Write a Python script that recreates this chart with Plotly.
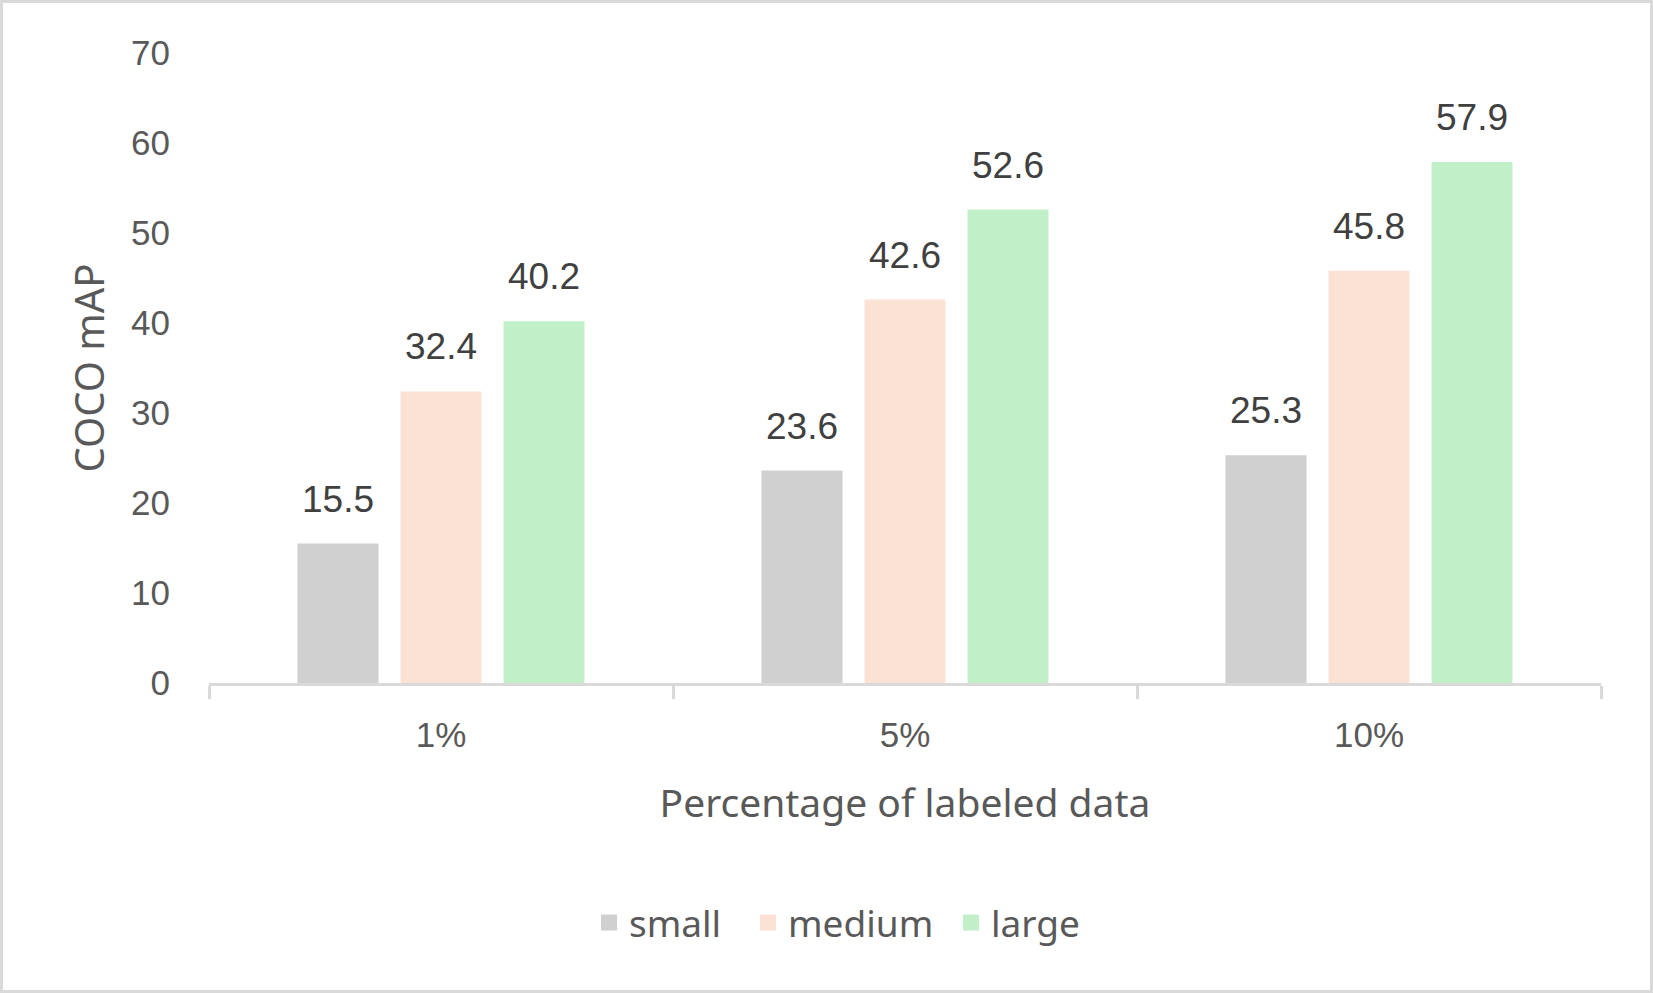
import plotly.graph_objects as go

categories = ["1%", "5%", "10%"]
series_names = ["small", "medium", "large"]
small_vals = [15.5, 23.6, 25.3]
medium_vals = [32.4, 42.6, 45.8]
large_vals = [40.2, 52.6, 57.9]
y_ticks = [0, 10, 20, 30, 40, 50, 60, 70]

colors = ["#d0d0d0", "#fbe2d5", "#c1f0c8"]
W, H = 1653, 993
ML, MR, MT, MB = 209, 52, 53, 310
PW, PH = W - ML - MR, H - MT - MB

fig = go.Figure()
series = [small_vals, medium_vals, large_vals]
for name, vals, col in zip(series_names, series, colors):
    fig.add_trace(go.Bar(name=name, x=categories, y=vals, showlegend=False,
                         marker=dict(color=col, line=dict(width=0))))

# legend proxies (one legend each, for exact placement)
legend_ids = ["legend", "legend2", "legend3"]
legend_left = [589, 748, 951]
for name, col, lid in zip(series_names, colors, legend_ids):
    fig.add_trace(go.Scatter(name=name, x=[None], y=[None], mode="markers", legend=lid,
                             marker=dict(symbol="square", size=22, color=col)))

# data labels
slot_px = PW / 3 * (1 - 0.334) / 3
offsets = [-slot_px, 0, slot_px]
for vals, off in zip(series, offsets):
    for c, v in zip(categories, vals):
        fig.add_annotation(x=c, y=v, text=f"{v:.1f}", showarrow=False, xshift=off,
                           yanchor="bottom", yshift=22,
                           font=dict(family="Liberation Sans, Arial", size=37, color="#404040"))

# outer border
fig.add_shape(type="rect", xref="paper", yref="paper",
              x0=(1.5 - ML) / PW, x1=(W - 1.5 - ML) / PW,
              y0=(MT + PH - (H - 1.5)) / PH, y1=(MT + PH - 1.5) / PH,
              line=dict(color="#d9d9d9", width=3), fillcolor="rgba(0,0,0,0)", layer="below")

legend_font = dict(family="Noto Sans", size=37, color="#595959")
leg_common = dict(orientation="h", xanchor="left", yanchor="middle",
                  y=(MT + PH - 923) / PH, font=legend_font, itemsizing="trace",
                  bgcolor="rgba(0,0,0,0)", borderwidth=0)
layout_legends = {}
for lid, left in zip(legend_ids, legend_left):
    layout_legends[lid] = dict(leg_common, x=(left - ML) / PW)

fig.update_layout(
    width=W, height=H,
    margin=dict(l=ML, r=MR, t=MT, b=MB, autoexpand=False),
    paper_bgcolor="white", plot_bgcolor="white",
    barmode="group", bargap=0.334, bargroupgap=0.214,
    showlegend=True,
    **layout_legends,
    xaxis=dict(
        showline=True, linecolor="#d9d9d9", linewidth=3,
        ticks="outside", tickson="boundaries", ticklen=13, tickwidth=3, tickcolor="#d9d9d9",
        tickfont=dict(family="Liberation Sans, Arial", size=35, color="#595959"),
        ticklabelstandoff=19,
        title=dict(text="Percentage of labeled data", standoff=37,
                   font=dict(family="Noto Sans", size=39, color="#595959")),
        showgrid=False, zeroline=False,
    ),
    yaxis=dict(
        range=[0, 70], tickvals=y_ticks, showgrid=False, zeroline=False, showline=False,
        tickfont=dict(family="Liberation Sans, Arial", size=35, color="#595959"),
        ticklabelstandoff=38,
        title=dict(text="COCO mAP", standoff=14,
                   font=dict(family="Noto Sans", size=40, color="#595959")),
    ),
)

fig.write_html("out.html", config={"displayModeBar": False},
               post_script="document.body.style.margin='0';")
